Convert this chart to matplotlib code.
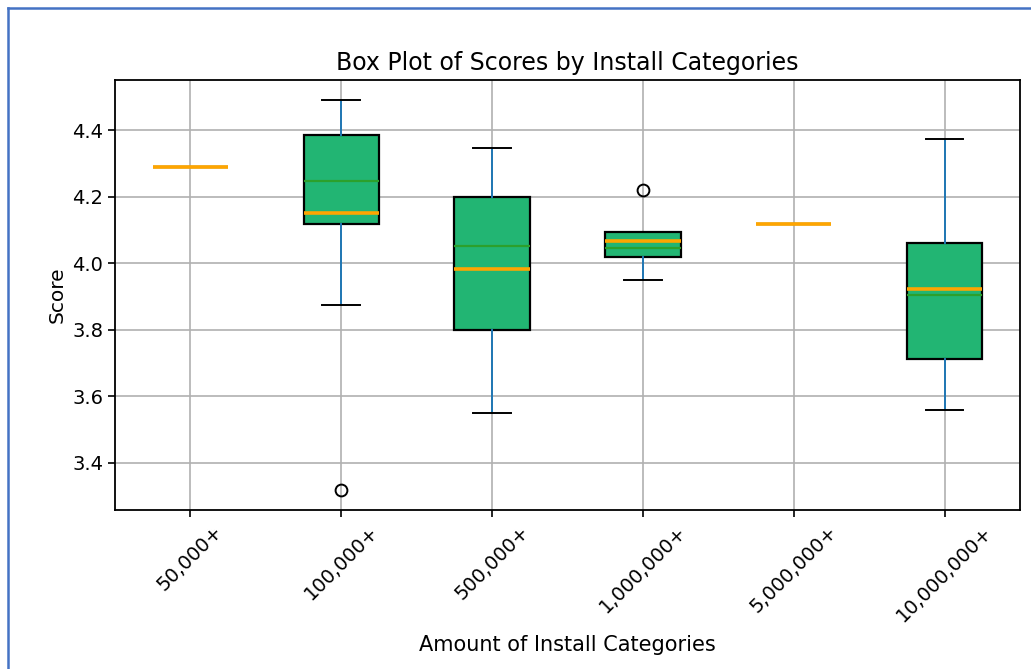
import matplotlib
matplotlib.use("Agg")
import matplotlib.pyplot as plt
from matplotlib.lines import Line2D

# -----------------------------------
# Box statistics per install category
# -----------------------------------

categories = ["50,000+", "100,000+", "500,000+", "1,000,000+", "5,000,000+", "10,000,000+"]

q1 = [4.29, 4.120, 3.801, 4.020, 4.12, 3.713]
median = [4.29, 4.153, 3.984, 4.068, 4.12, 3.922]
q3 = [4.29, 4.385, 4.199, 4.094, 4.12, 4.060]
whis_low = [4.29, 3.874, 3.551, 3.949, 4.12, 3.558]
whis_high = [4.29, 4.493, 4.348, 4.094, 4.12, 4.373]
mean = [4.29, 4.247, 4.052, 4.046, 4.12, 3.905]
outliers = [[], [3.317], [], [4.220], [], []]

stats = []
for i, name in enumerate(categories):
    stats.append({
        "label": name,
        "q1": q1[i],
        "med": median[i],
        "q3": q3[i],
        "whislo": whis_low[i],
        "whishi": whis_high[i],
        "mean": mean[i],
        "fliers": outliers[i],
    })

# -----------------------------------
# Figure
# -----------------------------------

fig = plt.figure(figsize=(10.31, 6.69), dpi=100)
ax = fig.add_axes([115 / 1031, 159 / 669, 905 / 1031, 430 / 669])

ax.bxp(
    stats,
    widths=0.5,
    patch_artist=True,
    showmeans=True,
    meanline=True,
    boxprops=dict(facecolor="#22b573", edgecolor="black", linewidth=1.6),
    medianprops=dict(color="orange", linewidth=2.6, zorder=4),
    meanprops=dict(color="#2ca02c", linestyle="-", linewidth=1.6, zorder=3),
    whiskerprops=dict(color="#1f77b4", linewidth=1.4),
    capprops=dict(color="black", linewidth=1.4),
    flierprops=dict(marker="o", markerfacecolor="none", markeredgecolor="black",
                    markersize=8.5, markeredgewidth=1.4),
)

ax.grid(True, color="#b0b0b0", linewidth=1.2)
ax.set_axisbelow(True)

ax.set_title("Box Plot of Scores by Install Categories", fontsize=17, pad=7)
ax.set_xlabel("Amount of Install Categories", fontsize=15, labelpad=7)
ax.set_ylabel("Score", fontsize=14.5)

ax.set_xticks(range(1, len(categories) + 1))
ax.set_xticklabels(categories, rotation=45, ha="center")
ax.tick_params(axis="both", labelsize=14, length=5, width=1.2)

for spine in ax.spines.values():
    spine.set_linewidth(1.3)

# blue frame on the left and top edges
frame_color = "#4472c4"
fig.add_artist(Line2D([8 / 1031, 8 / 1031], [0, 1 - 8 / 669],
                      transform=fig.transFigure, color=frame_color, linewidth=1.8))
fig.add_artist(Line2D([8 / 1031, 1], [1 - 8 / 669, 1 - 8 / 669],
                      transform=fig.transFigure, color=frame_color, linewidth=1.8))

fig.savefig("out.png", dpi=100)
